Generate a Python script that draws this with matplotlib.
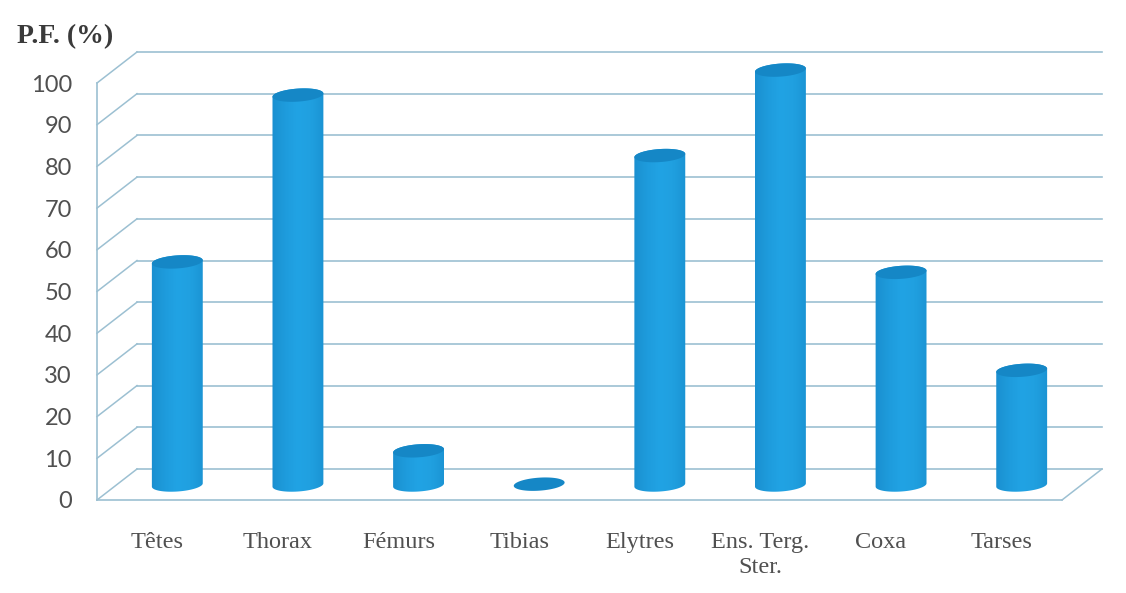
import numpy as np
import matplotlib
matplotlib.use('Agg')
import matplotlib.pyplot as plt
from matplotlib.colors import LinearSegmentedColormap
from matplotlib.patches import PathPatch
from matplotlib.path import Path
from matplotlib.transforms import Affine2D

# Values
categories = ['Têtes', 'Thorax', 'Fémurs', 'Tibias', 'Elytres', 'Ens. Terg.\nSter.', 'Coxa', 'Tarses']
values = [53.5, 93.5, 8.2, 0.2, 79, 99.5, 51, 27.5]
yticks = [0, 10, 20, 30, 40, 50, 60, 70, 80, 90, 100]

grid_color = '#9cc0d2'
top_color = '#1587c6'
text_color = '#505050'
serif = 'Liberation Serif'
shade = LinearSegmentedColormap.from_list(
    'cyl', ['#1a8fcf', '#1e9bdc', '#21a3e4', '#20a0e0', '#1b94d4'])

fig = plt.figure(figsize=(11.26, 5.93), dpi=100)
W, H = fig.get_size_inches() * fig.dpi
ax = fig.add_axes([97 / W, 1 - 500 / H, 965 / W, 417 / H])
ax.set_xlim(0, 8)
ax.set_ylim(0, 100)

# 3D look: back wall and the cylinders are shifted in pixels
back = ax.transData + Affine2D().translate(40, 31)
mid = ax.transData + Affine2D().translate(20, 15)

# Back wall grid and left wall diagonals
for v in yticks:
    ax.plot([0, 8], [v, v], color=grid_color, lw=1.2, transform=back, clip_on=False, zorder=1)
    x0, y0 = ax.transData.transform((0, v))
    ax.plot([x0, x0 + 40], [y0, y0 + 31], color=grid_color, lw=1.1,
            transform=None, clip_on=False, zorder=1)

# Floor right edge
x0, y0 = ax.transData.transform((8, 0))
ax.plot([x0, x0 + 40], [y0, y0 + 31], color=grid_color, lw=1.1, transform=None, clip_on=False, zorder=1)

# Cylinders
positions = [i + 0.5 for i in range(len(values))]
a, b, tilt = 25.5, 6.5, np.radians(4)


def arc(cx, cy, t):
    return np.column_stack([cx + a * np.cos(t) * np.cos(tilt) - b * np.sin(t) * np.sin(tilt),
                            cy + a * np.cos(t) * np.sin(tilt) + b * np.sin(t) * np.cos(tilt)])


for x, v in zip(positions, values):
    px, py0 = mid.transform((x, 0))
    _, py1 = mid.transform((x, v))
    if v >= 1:
        outline = np.vstack([arc(px, py1, np.linspace(0, np.pi, 40)),
                             arc(px, py0, np.linspace(np.pi, 2 * np.pi, 40))])
        body = PathPatch(Path(np.vstack([outline, outline[:1]]), closed=True),
                         facecolor='none', edgecolor='none', transform=None, clip_on=False)
        ax.add_patch(body)
        im = ax.imshow(np.linspace(0, 1, 64).reshape(1, -1), cmap=shade, aspect='auto',
                       extent=(px - a - 1, px + a + 1, py0 - 12, py1 + 12),
                       transform=None, zorder=3)
        im.set_clip_path(body)
        im.set_clip_box(fig.bbox)
    top = arc(px, py1, np.linspace(0, 2 * np.pi, 80))
    ax.add_patch(PathPatch(Path(top, closed=True), facecolor=top_color, edgecolor='none',
                           transform=None, clip_on=False, zorder=4))

ax.set_xlim(0, 8)
ax.set_ylim(0, 100)

# Axes
for name in ['top', 'right']:
    ax.spines[name].set_visible(False)
for name in ['left', 'bottom']:
    ax.spines[name].set_color(grid_color)
    ax.spines[name].set_linewidth(1.2)

ax.set_yticks(yticks)
ax.set_yticklabels([str(v) for v in yticks], family='Lato', fontsize=17, color=text_color)
ax.set_xticks(positions)
ax.set_xticklabels(categories, family=serif, fontsize=17.5, color=text_color, linespacing=1.25)
ax.tick_params(axis='y', length=0, pad=18)
ax.tick_params(axis='x', length=0, pad=23)

fig.text(17 / W, 1 - 37 / H, 'P.F. (%)', family=serif, weight='bold', fontsize=20,
         color='#3a3a3a', va='center', ha='left')

fig.savefig('out.png', dpi=100)
